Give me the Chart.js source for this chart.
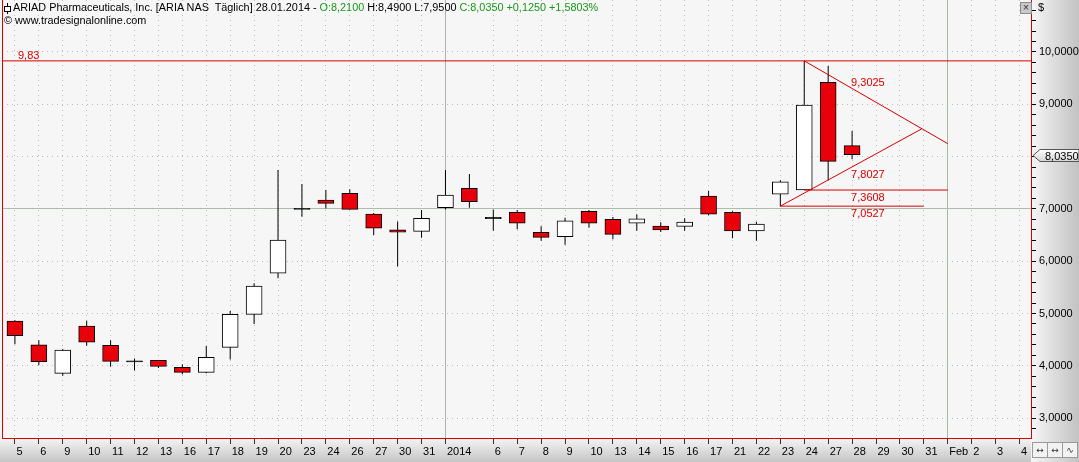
<!DOCTYPE html>
<html>
<head>
<meta charset="utf-8">
<script src="https://cdn.jsdelivr.net/npm/chart.js@4.4.1/dist/chart.umd.min.js"></script>
<style>
  html, body { margin: 0; padding: 0; background: #f4f4f4; }
  #wrap { position: relative; width: 1079px; height: 462px; overflow: hidden;
          font-family: "Liberation Sans", Arial, sans-serif; font-size: 11px; }
  #chart { position: absolute; left: 0; top: 0; }
  .txt { position: absolute; white-space: pre; color: #000; line-height: 13px; }
  .hdr { font-size: 10.85px; }
  .up { color: #17981b; }
  #closeBox { position: absolute; left: 1020px; top: 2px; width: 10px; height: 10px; background: #c8c8c8;
              border: 1px solid #8c8c8c; font-size: 10px; line-height: 10px; text-align: center; color: #333; }
  .btn { position: absolute; top: 442px; width: 14px; height: 14px; border: 1px solid #9a9a9a; background: #f2f2f2;
         font-family: "DejaVu Sans", sans-serif; font-size: 9px; line-height: 14px; text-align: center; color: #333; }
  #icon { position: absolute; left: 4px; top: 3px; width: 7px; height: 11px; }
  #icon .w { position: absolute; left: 3px; top: 0; width: 1px; height: 11px; background: #000; }
  #icon .b { position: absolute; left: 0; top: 3px; width: 5px; height: 4px; border: 1px solid #000; background: #fff; }
</style>
</head>
<body>
<div id="wrap">
  <canvas id="chart" width="1079" height="462"></canvas>
  <div id="icon"><div class="w"></div><div class="b"></div></div>
  <div class="txt hdr" style="left:13px;top:1px">ARIAD Pharmaceuticals, Inc. [ARIA NAS  Täglich] 28.01.2014 - <span class="up">O:8,2100</span> H:8,4900 L:7,9500 <span class="up">C:8,0350 +0,1250 +1,5803%</span></div>
  <div class="txt hdr" style="left:4px;top:14px">© www.tradesignalonline.com</div>
  <div id="closeBox">×</div>
  <div class="txt" style="left:1038px;top:1px">$</div>
  <div class="btn" style="left:1032px">↔</div>
  <div class="btn" style="left:1047px">↔</div>
  <div class="btn" style="left:1062px">∿</div>
</div>
<script>
// daily bars, 05.12.2013 - 28.01.2014, then empty future slots up to Feb 4
var dateLabels = ['5', '6', '9', '10', '11', '12', '13', '16', '17', '18', '19', '20', '23', '24', '26', '27', '30', '31',
                  '2014', '', '6', '7', '8', '9', '10', '13', '14', '15', '16', '17', '21', '22', '23', '24', '27', '28',
                  '29', '30', '31', 'Feb', '2', '3', '4'];
var opens  = [4.857, 4.40, 3.857, 4.76, 4.39, 4.08, 4.105, 3.97, 3.876, 4.354, 4.985, 5.77, 6.99, 7.17, 7.30, 6.90, 6.60, 6.57,
              7.023, 7.394, 6.82, 6.935, 6.553, 6.47, 6.954, 6.80, 6.725, 6.67, 6.667, 7.247, 6.935, 6.58, 7.28, 7.3608, 9.42, 8.21];
var highs  = [4.87, 4.49, 4.32, 4.86, 4.49, 4.14, 4.11, 4.03, 4.38, 5.05, 5.58, 7.744, 7.476, 7.36, 7.375, 6.92, 6.76, 6.98,
              7.744, 7.667, 6.99, 6.98, 6.67, 6.83, 6.98, 6.845, 6.90, 6.745, 6.82, 7.34, 6.954, 6.755, 7.55, 9.83, 9.73, 8.49];
var lows   = [4.41, 4.015, 3.81, 4.385, 3.98, 3.91, 3.96, 3.84, 3.857, 4.12, 4.80, 5.673, 6.85, 7.01, 6.99, 6.50, 5.90, 6.45,
              6.99, 7.023, 6.58, 6.61, 6.39, 6.316, 6.64, 6.42, 6.58, 6.56, 6.58, 6.88, 6.44, 6.39, 7.0527, 7.3608, 7.55, 7.95];
var closes = [4.576, 4.08, 4.30, 4.45, 4.086, 4.085, 3.99, 3.876, 4.16, 4.985, 5.526, 6.405, 7.0, 7.107, 6.99, 6.63, 6.553, 6.82,
              7.266, 7.138, 6.825, 6.725, 6.457, 6.77, 6.725, 6.514, 6.81, 6.60, 6.75, 6.897, 6.58, 6.71, 7.52, 8.986, 7.91, 8.035];

// drawing tools (bar index, price)
var highLevel = 9.83;
var upperTrend = [{x: 33, y: 9.83}, {x: 39, y: 8.2475}];
var lowerTrend = [{x: 32, y: 7.0527}, {x: 37.92, y: 8.533}];
var levelA = [{x: 33, y: 7.3608}, {x: 39, y: 7.3608}];
var levelB = [{x: 32, y: 7.0527}, {x: 38, y: 7.0527}];
var levelValues = [9.3025, 7.8027, 7.3608, 7.0527];
var lastBar = 35;
var monthStarts = [18, 39];

var RED = '#d70000';

function fmt(v, d) { return v.toFixed(d).replace('.', ','); }
function isWhole(v) { return Math.abs(v - Math.round(v)) < 1e-6; }

var wickData = [], bodyData = [], bodyFill = [];
for (var i = 0; i < closes.length; i++) {
  wickData.push({x: i, y: [lows[i], highs[i]]});
  var lo = Math.min(opens[i], closes[i]), hi = Math.max(opens[i], closes[i]);
  var cross = hi - lo < 0.015;
  if (cross) { lo = closes[i] - 0.012; hi = closes[i] + 0.012; }
  bodyData.push({x: i, y: [lo, hi]});
  bodyFill.push(cross ? '#000' : (closes[i] < opens[i] ? '#e8000a' : '#ffffff'));
}

function trendLine(points) {
  return {type: 'line', data: points, borderColor: RED, borderWidth: 1, pointRadius: 0,
          fill: false, tension: 0, order: 0};
}

var chartDecor = {
  id: 'chartDecor',
  beforeDraw: function(chart) {
    var ctx = chart.ctx, a = chart.chartArea;
    ctx.save();
    ctx.fillStyle = '#f4f4f4';
    ctx.fillRect(0, 0, chart.width, chart.height);
    var gb = ctx.createLinearGradient(0, a.bottom, 0, chart.height);
    gb.addColorStop(0, '#f4f4f4');
    gb.addColorStop(1, '#c6c6c6');
    ctx.fillStyle = gb;
    ctx.fillRect(0, a.bottom, a.right, chart.height - a.bottom);
    var gr = ctx.createLinearGradient(a.right, 0, chart.width, 0);
    gr.addColorStop(0, '#f6f6f6');
    gr.addColorStop(1, '#c2c2c2');
    ctx.fillStyle = gr;
    ctx.fillRect(a.right, 0, chart.width - a.right, chart.height);
    ctx.fillStyle = '#f6f6f6';
    ctx.fillRect(a.left, a.top, a.right - a.left, a.bottom - a.top);
    ctx.restore();
  },
  afterDraw: function(chart) {
    var ctx = chart.ctx, a = chart.chartArea;
    var xs = chart.scales.x, ys = chart.scales.y;
    ctx.save();
    // left frame line
    ctx.strokeStyle = RED;
    ctx.lineWidth = 1;
    ctx.beginPath();
    ctx.moveTo(a.left + 0.5, a.top);
    ctx.lineTo(a.left + 0.5, a.bottom);
    ctx.stroke();

    // level labels
    ctx.font = '11px "Liberation Sans", Arial, sans-serif';
    ctx.fillStyle = RED;
    ctx.textAlign = 'left';
    ctx.textBaseline = 'alphabetic';
    ctx.fillText(fmt(highLevel, 2), a.left + 16, ys.getPixelForValue(highLevel) - 2);
    var lx = xs.getPixelForValue(lastBar) - 1;
    for (var k = 0; k < levelValues.length; k++) {
      var py = ys.getPixelForValue(levelValues[k]);
      ctx.fillText(fmt(levelValues[k], 4), lx, k === 0 ? py - 2 : py + 11);
    }

    // last price tag on the axis
    var last = closes[closes.length - 1];
    var ty = Math.round(ys.getPixelForValue(last)) + 0.5;
    var x0 = a.right + 2;
    ctx.beginPath();
    ctx.moveTo(x0, ty);
    ctx.lineTo(x0 + 7, ty - 6);
    ctx.lineTo(chart.width, ty - 6);
    ctx.lineTo(chart.width, ty + 6);
    ctx.lineTo(x0 + 7, ty + 6);
    ctx.closePath();
    var gt = ctx.createLinearGradient(0, ty - 6, 0, ty + 6);
    gt.addColorStop(0, '#ffffff');
    gt.addColorStop(1, '#d4d4d4');
    ctx.fillStyle = gt;
    ctx.fill();
    ctx.strokeStyle = '#555';
    ctx.stroke();
    ctx.fillStyle = '#000';
    ctx.textBaseline = 'middle';
    ctx.fillText(fmt(last, 4), x0 + 12, ty + 1);
    ctx.restore();
  }
};

Chart.defaults.font.family = '"Liberation Sans", Arial, sans-serif';
Chart.defaults.font.size = 11;
Chart.defaults.color = '#000';

new Chart(document.getElementById('chart'), {
  type: 'bar',
  data: {
    datasets: [
      trendLine([{x: -1, y: highLevel}, {x: 43, y: highLevel}]),
      trendLine(upperTrend),
      trendLine(lowerTrend),
      trendLine(levelA),
      trendLine(levelB),
      {label: 'body', data: bodyData, backgroundColor: bodyFill, borderColor: '#000', borderWidth: 1,
       borderSkipped: false, barThickness: 16, grouped: false, order: 1},
      {label: 'wick', data: wickData, backgroundColor: '#000', borderWidth: 0, barThickness: 1,
       inflateAmount: 0, grouped: false, order: 2}
    ]
  },
  options: {
    responsive: false,
    animation: false,
    devicePixelRatio: 1,
    layout: {padding: {left: 2, right: 0, top: 0, bottom: 0}},
    plugins: {legend: {display: false}, tooltip: {enabled: false}},
    scales: {
      x: {
        type: 'linear', position: 'bottom', min: -0.54, max: 42.48, offset: false,
        ticks: {
          stepSize: 1, autoSkip: false, includeBounds: false, maxRotation: 0, minRotation: 0,
          align: 'start', labelOffset: 1.5, padding: 1, maxTicksLimit: 100,
          callback: function(v) { return dateLabels[v] !== undefined ? dateLabels[v] : ''; }
        },
        grid: {
          offset: false, lineWidth: 1, tickLength: 6,
          color: function(c) {
            if (!c.tick) return '#bdbdbd';
            if (dateLabels[c.tick.value] === '') return 'rgba(0,0,0,0)';
            return monthStarts.indexOf(c.tick.value) >= 0 ? '#a9b7a9' : '#bdbdbd';
          },
          tickColor: function(c) {
            return c.tick && dateLabels[c.tick.value] === '' ? 'rgba(0,0,0,0)' : '#333';
          }
        },
        border: {
          color: RED, width: 1,
          dash: function(c) { return c.tick && monthStarts.indexOf(c.tick.value) >= 0 ? [] : [1, 4]; }
        },
        afterFit: function(s) { s.height = 24; s.paddingLeft = 0; s.paddingRight = 0; }
      },
      y: {
        type: 'linear', position: 'right', min: 2.62, max: 10.994, beginAtZero: false,
        ticks: {
          stepSize: 0.2, autoSkip: false, includeBounds: false, padding: 3, maxTicksLimit: 100,
          callback: function(v) { return isWhole(v) ? fmt(v, 4) : ''; }
        },
        grid: {
          lineWidth: 1, tickLength: 5, tickColor: '#000',
          color: function(c) {
            if (!c.tick || !isWhole(c.tick.value)) return 'rgba(0,0,0,0)';
            return Math.round(c.tick.value) === 7 ? '#a9bda9' : '#bdbdbd';
          }
        },
        border: {
          color: RED, width: 1,
          dash: function(c) { return c.tick && isWhole(c.tick.value) && Math.round(c.tick.value) === 7 ? [] : [1, 4]; }
        },
        afterFit: function(s) { s.width = 48; s.paddingTop = 0; s.paddingBottom = 0; }
      }
    }
  },
  plugins: [chartDecor]
});
</script>
</body>
</html>
